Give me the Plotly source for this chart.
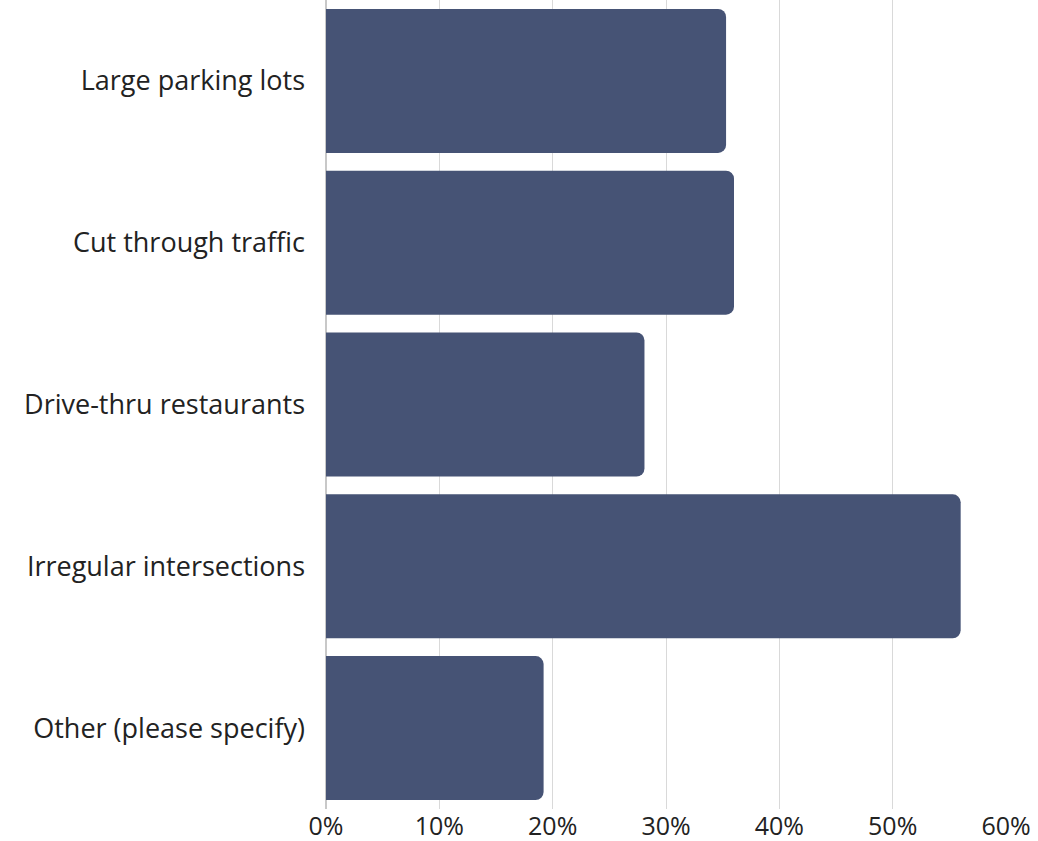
import plotly.graph_objects as go

categories = ["Large parking lots", "Cut through traffic", "Drive-thru restaurants",
              "Irregular intersections", "Other (please specify)"]
values = [0.353, 0.360, 0.281, 0.560, 0.192]
tick_vals = [0, 0.1, 0.2, 0.3, 0.4, 0.5, 0.6]
tick_text = ["0%", "10%", "20%", "30%", "40%", "50%", "60%"]

fig = go.Figure(go.Bar(
    x=values, y=categories, orientation="h",
    marker=dict(color="#465375", line=dict(width=0)),
))
fig.update_layout(
    width=1038, height=841,
    margin=dict(l=326, r=32, t=0, b=32),
    paper_bgcolor="white", plot_bgcolor="white",
    bargap=0.11, barcornerradius=8,
    font=dict(family="Open Sans", size=27, color="#222222"),
    showlegend=False,
)
fig.update_xaxes(range=[0, 0.6], tickvals=tick_vals, ticktext=tick_text,
                 showgrid=True, gridcolor="#d9d9d9", gridwidth=1,
                 zeroline=True, zerolinecolor="#c8c8c8", zerolinewidth=2,
                 showline=False, ticks="", ticklabelstandoff=0, automargin=False,
                 tickfont=dict(size=25))
fig.update_yaxes(autorange="reversed", showgrid=False, showline=False,
                 ticks="", ticklabelstandoff=20, automargin=False)
fig.write_html("out.html", config={"displayModeBar": False},
               post_script="document.body.style.margin='0';document.body.style.overflow='hidden';")
